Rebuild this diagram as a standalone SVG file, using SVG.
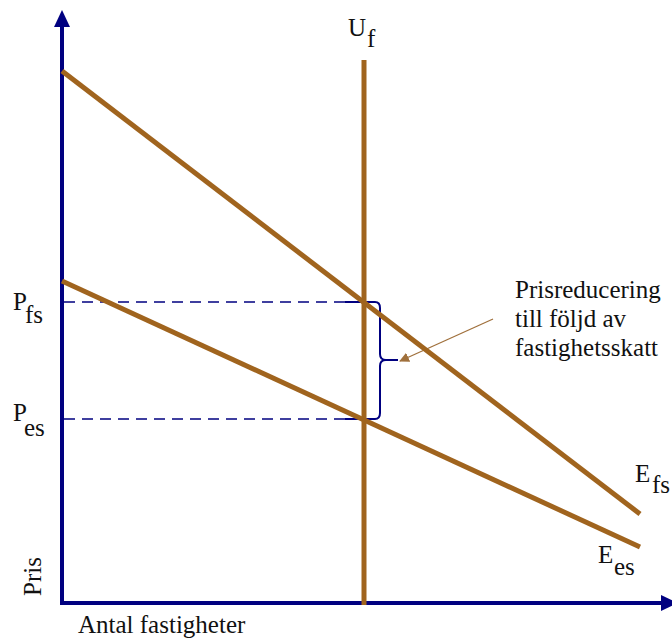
<svg xmlns="http://www.w3.org/2000/svg" width="672" height="638" viewBox="0 0 672 638">
<style>
.axis{stroke:#000080;stroke-width:4;fill:none}
.curve{stroke:#a0641e;stroke-width:5;fill:none;stroke-linecap:butt}
.dash{stroke:#000080;stroke-width:1.6;stroke-dasharray:11 7;fill:none}
.brace{stroke:#000080;stroke-width:2;fill:none}
.lbl{font-family:'Liberation Serif','Times New Roman',serif;fill:#111;font-size:25px}
</style>
<defs>
<marker id="ah" markerWidth="10" markerHeight="10" refX="9" refY="5" orient="auto" markerUnits="userSpaceOnUse" viewBox="0 0 10 10">
<path d="M0,0 L10,5 L0,10 Z" fill="#a0703c"/>
</marker>
</defs>
<rect width="672" height="638" fill="#fff"/>
<g id="axes">
<line class="axis" x1="62" y1="603" x2="62" y2="25"/>
<polygon points="62,10 54,27 70,27" fill="#000080"/>
<line class="axis" x1="60" y1="603" x2="664" y2="603"/>
<polygon points="678,603 661,595 661,611" fill="#000080"/>
</g>
<g id="connectors">
<line class="dash" x1="64" y1="302" x2="362" y2="302"/>
<line class="dash" x1="64" y1="419" x2="362" y2="419"/>
<path class="brace" d="M345,302 H375 Q380,302 380,308 V354 Q380,360 386,360 H398 M386,360 Q380,360 380,366 V413 Q380,419 375,419 H345"/>
<line x1="493" y1="319" x2="400" y2="361" stroke="#a0703c" stroke-width="1.3" marker-end="url(#ah)"/>
</g>
<g id="E_fs">
<line class="curve" x1="62" y1="71" x2="640" y2="514"/>
</g>
<g id="E_es">
<line class="curve" x1="62" y1="281" x2="640" y2="547"/>
</g>
<g id="U_f">
<line class="curve" x1="364" y1="60" x2="364" y2="605"/>
</g>
<g id="labels" class="lbl">
<text x="348" y="36">U</text><text x="367" y="47">f</text>
<text x="13" y="310">P</text><text x="25" y="323">fs</text>
<text x="13" y="421">P</text><text x="24" y="436">es</text>
<text x="635" y="482">E</text><text x="652" y="493">fs</text>
<text x="598" y="563">E</text><text x="614" y="575">es</text>
<text transform="translate(41,596) rotate(-90)">Pris</text>
<text x="78" y="633">Antal fastigheter</text>
<text x="515" y="298">Prisreducering</text>
<text x="515" y="327">till  följd av</text>
<text x="515" y="356">fastighetsskatt</text>
</g>
</svg>
